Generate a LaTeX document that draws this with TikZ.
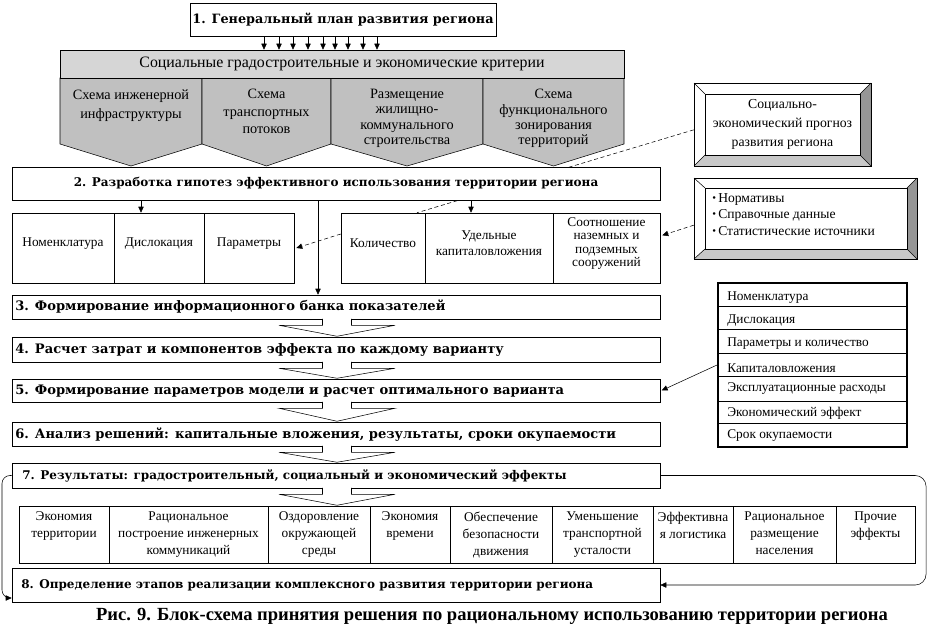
\documentclass[tikz,border=0pt]{standalone}
\usepackage{fontspec}
\setmainfont{Liberation Serif}
\newfontfamily\ttlfont{DejaVu Serif}
\usetikzlibrary{arrows.meta,fit,calc}
\pgfdeclarelayer{bg}
\pgfsetlayers{bg,main}
\definecolor{pgray}{RGB}{192,192,192}
\definecolor{critgray}{RGB}{214,214,214}
\definecolor{bevR}{RGB}{150,150,150}
\definecolor{bevB}{RGB}{200,200,200}
\tikzset{
  reg/.style={font=\fontsize{10}{12}\selectfont},
  ttl/.style={font=\ttlfont\bfseries\fontsize{9}{11}\selectfont},
  ttlb/.style={font=\ttlfont\bfseries\fontsize{9.8}{11}\selectfont},
  cell/.style={draw, inner sep=0pt, align=center, reg},
  sbox/.style={draw, fill=white, inner sep=0pt},
  arr/.style={-{Triangle[length=4.5pt,width=4pt]}},
  dsh/.style={dash pattern=on 3pt off 2pt},
  pics/hollow/.style={code={
    \fill[white] (-14.5,-1.5) rectangle (14.5,6);
    \draw (-14.5,-0.5) -- (-14.5,6) -- (-58,6) -- (0,#1) -- (58,6) -- (14.5,6) -- (14.5,-0.5);
  }}
}
\newcommand{\bul}{{\fontsize{8}{8}\selectfont\raisebox{0.8pt}{\textbullet}}\,}
\begin{document}
\begin{tikzpicture}[x=0.75pt,y=-0.75pt]
\useasboundingbox (0,0) rectangle (930,642);

% ---- box 1
\node[draw, inner sep=0pt, fit={(190,3) (496,36)}] (b1) {};
\node[inner sep=0pt, font=\ttlfont\bfseries\fontsize{9.6}{12}\selectfont] (b1t) at (b1.center) {1. Генеральный план развития региона};

% ---- pentagons
\foreach \a/\b in {60/202, 202/331, 331/483, 483/624} {
  \pgfmathsetmacro\c{(\a+\b)/2}
  \filldraw[fill=pgray] (\a,78) -- (\b,78) -- (\b,144) -- (\c,166) -- (\a,144) -- cycle;
}
\node[align=center, anchor=north, inner sep=0pt, font=\fontsize{10.7}{14.5}\selectfont] (p1) at (131,89) {Схема инженерной\\инфраструктуры};
\node[align=center, anchor=north, inner sep=0pt, font=\fontsize{10.7}{13}\selectfont] (p2) at (266.5,89) {Схема\\транспортных\\потоков};
\node[align=center, anchor=north, inner sep=0pt, font=\fontsize{10.7}{11.5}\selectfont] (p3) at (407,89) {Размещение\\жилищно-\\коммунального\\строительства};
\node[align=center, anchor=north, inner sep=0pt, font=\fontsize{10.7}{11.5}\selectfont] (p4) at (553.5,89) {Схема\\функционального\\зонирования\\территорий};

% ---- criteria bar
\node[draw, fill=critgray, inner sep=0pt, fit={(60,50) (624,78)}] (crit) {};
\node[inner sep=0pt, font=\fontsize{11.9}{14}\selectfont] (critt) at (crit.center) {Социальные градостроительные и экономические критерии};

\foreach \x [count=\i] in {264,279,293,308,323,335,348,363,377} {
  \coordinate (t\i) at (\x,0);
  \draw[arr] (b1.south -| t\i) -- (crit.north -| t\i);
}

% ---- box 2
\node[sbox, fit={(12,167) (660,200)}] (b2) {};
\node[ttl, inner sep=0pt] (b2t) at (b2.center) {2. Разработка гипотез эффективного использования территории региона};

% ---- left group
\node[cell, fit={(12,213) (114,283)}] (nom) {Номенклатура};
\node[cell, fit={(114,213) (204,283)}] (dis) {Дислокация};
\node[cell, fit={(204,213) (294,283)}] (par) {Параметры};
% ---- right group
\node[cell, fit={(341,213) (425,283)}] (qty) {Количество};
\node[cell, fit={(425,213) (553,283)}] (ud) {Удельные\\капиталовложения};
\node[cell, fit={(553,213) (660,283)}, font=\fontsize{10}{10}\selectfont] (soot) {Соотношение\\наземных и\\подземных\\сооружений};

\coordinate (c1) at (141,0);
\coordinate (c2) at (471,0);
\coordinate (c3) at (318,0);
\coordinate (q1) at (417,0);
\draw[arr] (b2.south -| c1) -- (dis.north -| c1);
\draw[arr] (b2.south -| c2) -- (ud.north -| c2);

% ---- boxes 3..8
\node[sbox, fit={(12,295) (660,319)}] (b3) {};
\node[sbox, fit={(12,337) (660,362)}] (b4) {};
\node[sbox, fit={(12,379) (660,402)}] (b5) {};
\node[sbox, fit={(12,422) (660,446)}] (b6) {};
\node[sbox, fit={(12,463) (660,488)}] (b7) {};
\node[sbox, fit={(12,568) (660,602)}] (b8) {};
\node[ttlb, anchor=west, inner sep=0pt] (t3) at (15,307) {3. Формирование информационного банка показателей};
\node[ttlb, anchor=west, inner sep=0pt] (t4) at (15,350) {4. Расчет затрат и компонентов эффекта по каждому варианту};
\node[ttlb, anchor=west, inner sep=0pt] (t5) at (15,391) {5. Формирование параметров модели и расчет оптимального варианта};
\node[ttlb, anchor=west, inner sep=0pt] (t6) at (15,435) {6. Анализ решений: капитальные вложения, результаты, сроки окупаемости};
\node[ttl, anchor=west, inner sep=0pt] (t7) at (22,476) {7. Результаты: градостроительный, социальный и экономический эффекты};
\node[ttl, anchor=west, inner sep=0pt] (t8) at (21,585) {8. Определение этапов реализации комплексного развития территории региона};

\draw[arr] (b2.south -| c3) -- (b3.north -| c3);

\coordinate (ha) at (337,0);
\pic at (b3.south -| ha) {hollow=17};
\pic at (b4.south -| ha) {hollow=16};
\pic at (b5.south -| ha) {hollow=19};
\pic at (b6.south -| ha) {hollow=16};
\pic at (b7.south -| ha) {hollow=17};

% ---- bottom row
\foreach \a/\b/\t [count=\i] in {
  19/109/{Экономия\\территории},
  109/268/{Рациональное\\построение инженерных\\коммуникаций},
  268/370/{Оздоровление\\окружающей\\среды},
  370/450/{Экономия\\времени},
  450/552/{Обеспечение\\безопасности\\движения},
  552/653/{Уменьшение\\транспортной\\усталости},
  653/733/{Эффективна\\я логистика},
  733/836/{Рациональное\\размещение\\населения},
  836/915/{Прочие\\эффекты}} {
  \node[draw, inner sep=0pt, fit={(\a,506) (\b,563)}] (r\i) {};
  \node[align=center, anchor=north, inner sep=0pt, font=\fontsize{10}{12.75}\selectfont] (rt\i) at ($(r\i.north)+(0,-4.5pt)$) {\t};
}

% ---- loops
\coordinate (l1) at (2,0);
\coordinate (rr) at (926,0);
\draw[arr, rounded corners=6pt] (b7.west) -- (l1 |- b7.west) -- (l1 |- 0,598) -- ([yshift=-9.75pt]b8.west);
\draw[arr, rounded corners=8pt] (b7.east) -- (rr |- b7.east) -- (rr |- b8.east) -- (b8.east);

% ---- bevel box: socio-economic forecast
\node[inner sep=0pt, fit={(694,83) (871,166)}] (socbox) {};
\fill[white] (694,83) rectangle (871,166);
\fill[bevR] (871,83) -- (871,166) -- (860,155) -- (860,94) -- cycle;
\fill[bevB] (694,166) -- (871,166) -- (860,155) -- (705,155) -- cycle;
\draw (694,83) rectangle (871,166);
\draw (705,94) rectangle (860,155);
\draw (694,83) -- (705,94) (871,83) -- (860,94) (871,166) -- (860,155) (694,166) -- (705,155);
\node[align=center, inner sep=0pt, font=\fontsize{10.3}{14}\selectfont] (soc) at (782.5,124.5) {Социально-\\экономический прогноз\\развития региона};

% ---- bevel box: norms
\node[inner sep=0pt, fit={(694,178) (917,259)}] (normbox) {};
\fill[white] (694,178) rectangle (917,259);
\fill[bevR] (917,178) -- (917,259) -- (907,249) -- (907,188) -- cycle;
\fill[bevB] (694,259) -- (917,259) -- (907,249) -- (705,249) -- cycle;
\draw (694,178) rectangle (917,259);
\draw (705,188) rectangle (907,249);
\draw (694,178) -- (705,188) (917,178) -- (907,188) (917,259) -- (907,249) (694,259) -- (705,249);
\node[align=left, anchor=north west, inner sep=0pt, font=\fontsize{10.2}{12.5}\selectfont] (norm) at (712,193) {\bul Нормативы\\\bul Справочные данные\\\bul Статистические источники};

% ---- table
\node[draw, line width=1.5pt, inner sep=0pt, fit={(718,283) (907,447)}] (tab) {};
\foreach \y in {306,329,353,376,401,423} \draw (718,\y) -- (907,\y);
\foreach \y/\t [count=\i] in {298/Номенклатура, 321/Дислокация, 344/Параметры и количество, 368/Капиталовложения, 389/Эксплуатационные расходы, 413/Экономический эффект, 436/Срок окупаемости}
  \node[anchor=west, inner sep=0pt, font=\fontsize{10}{11}\selectfont] (tr\i) at (727,\y) {\t};

% ---- dashed and solid side connectors
\begin{pgfonlayer}{bg}
\draw[dsh] ([yshift=-4pt]socbox.west) -- (qty.north -| q1);
\end{pgfonlayer}
\draw[dsh, arr] ([yshift=10.5pt]qty.west) -- ([xshift=1.5pt]par.east);
\draw[dsh, arr] ([yshift=-5pt]normbox.west) -- ([yshift=9.5pt, xshift=1.5pt]soot.east);
\draw[arr] (tab.west) -- ([xshift=1pt]b5.east);

% ---- caption
\node[font=\bfseries\fontsize{13.9}{16}\selectfont, inner sep=0pt] (cap) at (492,616) {Рис. 9. Блок-схема принятия решения по рациональному использованию территории региона};
\end{tikzpicture}
\end{document}
